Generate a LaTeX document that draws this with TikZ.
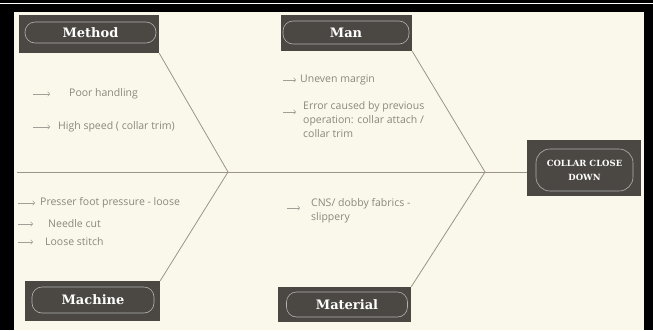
\documentclass[tikz,border=0pt]{standalone}
\usepackage{fontspec}
\setmainfont{Open Sans}
\newfontfamily\titlefont{DejaVu Serif}
\usetikzlibrary{arrows.meta,positioning}
\definecolor{paper}{HTML}{FAF8EA}
\definecolor{boxdark}{HTML}{4B4843}
\definecolor{inkgray}{HTML}{8A887E}
\definecolor{bonegray}{HTML}{9A9686}

\begin{document}
\begin{tikzpicture}[x=1pt, y=-1pt,
    causebox/.style={rectangle, fill=boxdark, inner sep=0pt},
    pill/.style={rectangle, rounded corners=10pt, draw=gray!60, line width=0.6pt, text=white, inner sep=0pt,
    font=\titlefont\bfseries\fontsize{13}{15}\selectfont},
    item/.style={anchor=west, text=inkgray, inner sep=0pt, align=left, font=\fontsize{10.5}{14}\selectfont},
    bone/.style={draw=bonegray, line width=0.8pt},
    pointer/.style={draw=inkgray!80, line width=0.5pt, -{Straight Barb[length=2pt,width=4.5pt]}}]

    \useasboundingbox (0,0) rectangle (653,330);
    \fill[black] (0,0) rectangle (653,330);
    \fill[paper] (14,12) rectangle (644,330);
    \draw[white, line width=0.8pt] (0,3.5) -- (653,3.5);

    \node (methodbox) [causebox, minimum width=140pt, minimum height=38pt] at (89,34) {};
    \node (method) [pill, minimum width=131pt, minimum height=21pt] at (90.5,32.5) {Method};

    \node (manbox) [causebox, minimum width=131pt, minimum height=36pt] at (346.5,33) {};
    \node (man) [pill, minimum width=126pt, minimum height=23pt] at (346,32.5) {Man};

    \node (machinebox) [causebox, minimum width=135pt, minimum height=40pt] at (92.5,301) {};
    \node (machine) [pill, minimum width=122pt, minimum height=26pt] at (93,300) {Machine};

    \node (materialbox) [causebox, minimum width=133pt, minimum height=35pt] at (344.5,304.5) {};
    \node (material) [pill, minimum width=121pt, minimum height=25pt] at (347,304.5) {Material};

    \node (collarbox) [causebox, minimum width=114pt, minimum height=56pt] at (584,168) {};
    \node (collar) [pill, rounded corners=14pt, minimum width=97pt, minimum height=42pt, align=center,
    font=\titlefont\bfseries\fontsize{8.5}{14}\selectfont] at (584.5,170) {COLLAR CLOSE\\DOWN};

    \coordinate (tail) at (17,172);
    \coordinate (jointA) at (228,172);
    \coordinate (jointB) at (485,172);

    \draw[bone] (tail) -- (collarbox.west |- tail);
    \draw[bone] (methodbox.south east) -- (jointA) -- (machinebox.north east);
    \draw[bone] (manbox.south east) -- (jointB) -- (materialbox.north east);

    \node (poor) [item] at (69,94) {Poor handling};
    \draw[pointer] ([xshift=-36pt]poor.west) -- ++(17,0);
    \node (speed) [item] at (58,127) {High speed ( collar trim)};
    \draw[pointer] ([xshift=-25pt]speed.west) -- ++(17,0);

    \node (uneven) [item] at (300,80) {Uneven margin};
    \draw[pointer] ([xshift=-17pt]uneven.west) -- ++(13,0);
    \node (error) [item] at (303,120) {Error caused by previous\\operation: collar attach /\\collar trim};
    \draw[pointer] ([xshift=-20pt,yshift=8pt]error.west) -- ++(13,0);

    \node (presser) [item] at (40,203) {Presser foot pressure - loose};
    \draw[pointer] ([xshift=-22pt]presser.west) -- ++(17,0);
    \node (needle) [item] at (48,224) {Needle cut};
    \draw[pointer] ([xshift=-30pt]needle.west) -- ++(15,0);
    \node (stitch) [item] at (45,242) {Loose stitch};
    \draw[pointer] ([xshift=-27pt]stitch.west) -- ++(15,0);

    \node (fabric) [item] at (311,211) {CNS/ dobby fabrics -\\slippery};
    \draw[pointer] ([xshift=-24pt,yshift=3pt]fabric.west) -- ++(13,0);
\end{tikzpicture}
\end{document}
